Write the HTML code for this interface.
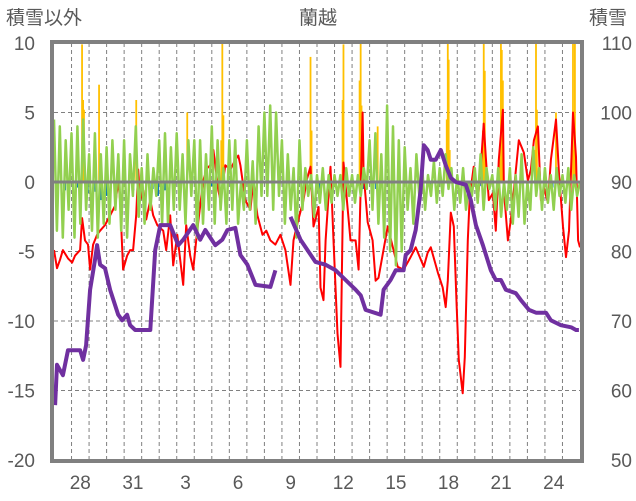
<!DOCTYPE html>
<html><head><meta charset="utf-8"><style>
body{margin:0;background:#fff;}
svg{display:block;font-family:"Liberation Sans","Noto Sans CJK JP",sans-serif;}
</style></head><body>
<svg id="chart" width="636" height="501" viewBox="0 0 636 501" xmlns="http://www.w3.org/2000/svg">
<text x="6" y="24" font-size="19" fill="#595959">積雪以外</text>
<text x="318" y="24" font-size="19" fill="#595959" text-anchor="middle">蘭越</text>
<text x="589" y="24" font-size="19" fill="#595959">積雪</text>
<g id="grid"></g>
<g id="bars"></g>
<g id="lines"></g>
<g id="axes"></g>
</svg>
<script>
const leftTicks=[10,5,0,-5,-10,-15,-20];
const rightTicks=[110,100,90,80,70,60,50];
const dayLabels=["28","31","3","6","9","12","15","18","21","24"];
const dayLabelPos=[1,4,7,10,13,16,19,22,25,28];
const rainT=[1.6,1.66,1.71,2.57,4.69,7.6,9.54,9.6,9.66,14.63,14.69,16.46,16.51,17.43,17.49,17.54,18.46,22.4,22.46,22.51,22.57,24.46,24.51,24.57,25.43,25.49,25.54,25.6,27.43,27.49,27.54,28.63,29.6,29.66,29.71];
const rainV=[9.9,5.9,5.2,7.0,5.9,5.0,3,10.5,4.8,9.0,3.7,5.9,9.9,7.3,10.5,5.5,4,4.5,10.5,8.8,2.3,3.7,10.5,8,2.3,10.5,9.5,7.3,2.3,10,5.2,5,10.5,2.3,10.5];
const snowFallT=[0.2,0.6,1.3,1.9,2.4,2.7,3.0,4.5,5.6,5.9,6.3,9.0,9.4,15.1,17.6,18.4,21.5,24.4,28.4];
const snowFallV=[-0.5,-0.6,-0.4,-0.8,-0.7,-1.3,-1.0,-0.6,-0.5,-1.0,-0.6,-0.3,-0.5,-0.6,-0.5,-0.5,-0.4,-0.3,-0.4];
const tempT=[0,.17,.34,.51,.8,1.03,1.2,1.49,1.6,1.77,1.94,2.06,2.23,2.46,2.63,2.91,3.2,3.49,3.66,3.77,3.94,4.17,4.34,4.51,4.69,4.8,4.91,5.09,5.26,5.49,5.66,5.89,6.23,6.4,6.63,6.8,7.03,7.2,7.37,7.54,7.77,7.94,8.17,8.34,8.51,8.74,8.91,9.09,9.2,9.37,9.49,9.77,10.06,10.34,10.51,10.63,10.91,11.2,11.37,11.6,11.89,12.11,12.34,12.63,12.91,13.2,13.49,13.66,13.94,14.23,14.4,14.63,14.8,15.09,15.2,15.37,15.49,15.77,15.94,16.17,16.34,16.51,16.74,16.91,17.2,17.37,17.6,17.66,17.89,18.17,18.34,18.51,19.03,19.6,19.94,20.34,20.63,21.09,21.31,21.49,21.89,22.17,22.34,22.46,22.63,22.8,22.97,23.09,23.31,23.43,23.6,23.71,23.94,24.17,24.34,24.51,24.63,24.8,25.03,25.2,25.37,25.6,25.66,25.89,26.06,26.23,26.51,26.8,27.03,27.2,27.37,27.6,27.77,27.94,28.17,28.34,28.63,28.8,29.03,29.2,29.37,29.6,29.77,29.89,30];
const tempV=[-4.9,-6.2,-5.6,-4.9,-5.5,-5.8,-5.3,-4.9,-2.6,-4.2,-4.5,-6.3,-4.5,-3.8,-3.5,-3.1,-2.4,-1.7,0.1,-1.3,-6.3,-5.3,-4.9,-4.9,-2.4,0.9,-1.3,-0.6,-2.7,-1.3,-2.4,-3.1,-3.5,-4.9,-2.4,-6,-3.8,-5.6,-7.4,-3.1,-5.3,-6.3,-3.5,-1.7,0.1,1,1.2,2.3,1.2,-0.6,-1.3,1.2,0.9,1.6,1.9,1.2,-1.3,-2,0.1,-2.4,-3.8,-3.5,-4.2,-4.5,-3.8,-4.9,-7.4,-4.2,-2.7,-1.3,0.1,1.1,-3.2,-1.8,-7.6,-8.5,-4.2,1.1,-4.2,-10.9,-13.3,1.4,-1.8,-4.2,-4.2,-6.3,5,0.6,-2.9,-4.2,-7.1,-6.9,-3.2,-6.1,-6.3,-5.4,-4.7,-6.1,-5.1,-4.7,-6.5,-7.6,-9,-7.1,-2.2,-3.2,-9,-12.8,-15.2,-12.6,-4.2,-1.1,1.1,-1.3,1.1,4.2,1.8,-1.3,-0.8,-3.5,1.6,5.2,-0.6,-4.2,-2.7,-0.6,3,2.1,0.1,0.9,3,4,-1.3,-0.4,-1.5,1.6,4.5,0.6,-3.2,-5.4,-3.5,5,1.8,-4.2,-4.7];
const windV=[4.5,-3.5,4,-4,3,-2, 3.5,-4,4,-3,4.5,-2, 2,-3.5,3.5,-4,2,-3, 2.5,-3,3,-2,2,-3.5, 3,-4,2,-1,4,-2.5, 1,-3,2,-2,1,-1, 3,-3,3.5,-3,2.5,-2, 3.5,-2,2,-3,3,-1, 3,-4,3,-3,2,-2, 4,-3,3,-2,1,-3, 3,-2,3,-3,0,-2, 3,-2,1.5,-3,4,-1, 5,-1,5.5,-2,5,-1, 3,-3,2,-2,1,-4, 3,-2,1,-1,0.5,-2.5, 0.5,-1.5,1,-2,0.5,-1.5, 0.5,-1,0.5,-2,1,-1, 0.5,-1.5,0.5,-1,1,-0.5, 3,-2,3.5,-3,2,-4, 5.5,-5,4,-6,3,-5, 2.5,-2,1,-3,2,-1, 1,-2,0.5,-1,1.5,-1.5, 1,-1,2,-0.5,1,-2, 0.5,-1.5,1,-2,0,-1, 1,-1.5,2,-2,1,-0.5, 0.5,-2,1,-2.5,0,-2, 1,-3,0.5,-2.5,2,-3, 0,-2,2.5,-1,1,-2, 1,-1.5,0.5,-2,1,-1, 0.5,-1.5,1,-2,0.5,-1, 0];
const snowT=[.06,.17,.51,.8,1.49,1.66,1.83,2.06,2.34,2.46,2.63,2.91,3.2,3.66,3.89,4.17,4.34,4.63,5.49,5.77,6.06,6.63,7.09,7.37,7.94,8.34,8.63,9.2,9.6,9.89,10.34,10.63,11.03,11.49,12.34,12.63,null,13.49,14.06,14.46,14.91,15.49,16.06,16.63,17.2,17.49,17.77,18.63,18.8,19.2,19.49,19.94,20.06,20.34,20.63,20.91,21.09,21.31,21.49,21.77,22.06,22.34,22.63,22.91,23.49,23.77,24.06,24.46,24.91,25.2,25.49,25.77,26.34,26.63,27.09,27.49,28.06,28.34,28.91,29.49,29.77,29.94];
const snowV=[57.9,63.7,62.2,65.8,65.8,64.4,66.5,74.5,78.8,80.9,78.1,77.6,74.5,70.9,70.1,70.9,69.4,68.7,68.7,80.2,83.8,83.8,80.9,81.7,83.8,81.7,83.1,80.9,81.7,83.1,83.4,79.5,78.1,75.2,74.9,77.3,null,85,81.7,80.2,78.5,78.1,77.3,75.9,74.5,73.7,71.6,70.9,74.5,75.9,77.3,77.3,79.5,80.2,83.1,88.8,95.3,94.6,93.2,93.2,94.6,92.4,90.6,90,89.6,87.4,83.8,80.9,77.3,75.9,75.9,74.5,74,73,71.6,71.2,71.2,70.1,69.4,69.1,68.7,68.7];

const NS="http://www.w3.org/2000/svg";
const X0=54,X1=580,Y0=43,Y1=460,DAYS=30;
const xs=t=>X0+t*(X1-X0)/DAYS;
const yl=v=>Y0+(10-v)*(Y1-Y0)/30;
const yr=v=>Y0+(110-v)*(Y1-Y0)/60;
function mk(tag,attrs,parent){const e=document.createElementNS(NS,tag);for(const k in attrs)e.setAttribute(k,attrs[k]);parent.appendChild(e);return e;}
const grid=document.getElementById('grid'),bars=document.getElementById('bars'),lines=document.getElementById('lines'),axes=document.getElementById('axes');
for(let d=1;d<DAYS;d++){const l=mk('line',{x1:xs(d),x2:xs(d),y1:Y0,y2:Y1,stroke:'#808080','stroke-width':1,'stroke-dasharray':'4,3'},grid);

}
leftTicks.forEach(v=>{if(v<10&&v>-20&&v!==0){const l=mk('line',{x1:X0,x2:X1,y1:yl(v),y2:yl(v),stroke:'#808080','stroke-width':1,'stroke-dasharray':'4,3'},grid);

}});
rainT.forEach((t,i)=>{const v=Math.min(rainV[i],10);const r=mk('rect',{x:xs(t)-0.9,y:yl(v),width:1.8,height:yl(0)-yl(v),fill:'#ffc000'},bars);

});
snowFallT.forEach((t,i)=>{const r=mk('rect',{x:xs(t)-1.5,y:yl(0),width:3,height:yl(snowFallV[i])-yl(0),fill:'#0070c0'},bars);

});
function path(ts,vs,ysc){let d='',pen=false;ts.forEach((t,i)=>{if(t===null||vs[i]===null){pen=false;return;}d+=(pen?'L':'M')+xs(t).toFixed(1)+','+ysc(vs[i]).toFixed(1);pen=true;});return d;}
const tp=mk('path',{d:path(tempT,tempV,yl),fill:'none',stroke:'#ff0000','stroke-width':2,'stroke-linejoin':'round'},lines);


const windT=windV.map((v,i)=>i/6);
const wp=mk('path',{d:path(windT,windV,yl),fill:'none',stroke:'#92d050','stroke-width':2.5,'stroke-linejoin':'round'},lines);


const zl=mk('line',{x1:X0,x2:X1,y1:yl(0),y2:yl(0),stroke:'#808080','stroke-width':3},lines);


const sp=mk('path',{d:path(snowT,snowV,yr),fill:'none',stroke:'#7030a0','stroke-width':4,'stroke-linejoin':'round'},lines);


const fr=mk('rect',{x:X0-2,y:Y0-1,width:X1-X0+4,height:Y1-Y0+2,fill:'none',stroke:'#808080','stroke-width':4},axes);


leftTicks.forEach(v=>{const t=mk('text',{x:35,y:yl(v)+7,'font-size':19,fill:'#595959','text-anchor':'end'},axes);t.textContent=v;

});
rightTicks.forEach(v=>{const t=mk('text',{x:632,y:yr(v)+7,'font-size':19,fill:'#595959','text-anchor':'end'},axes);t.textContent=v;

});
dayLabels.forEach((s,i)=>{const t=mk('text',{x:xs(dayLabelPos[i]+0.5),y:489,'font-size':19,fill:'#595959','text-anchor':'middle'},axes);t.textContent=s;

});
</script>
</body></html>
